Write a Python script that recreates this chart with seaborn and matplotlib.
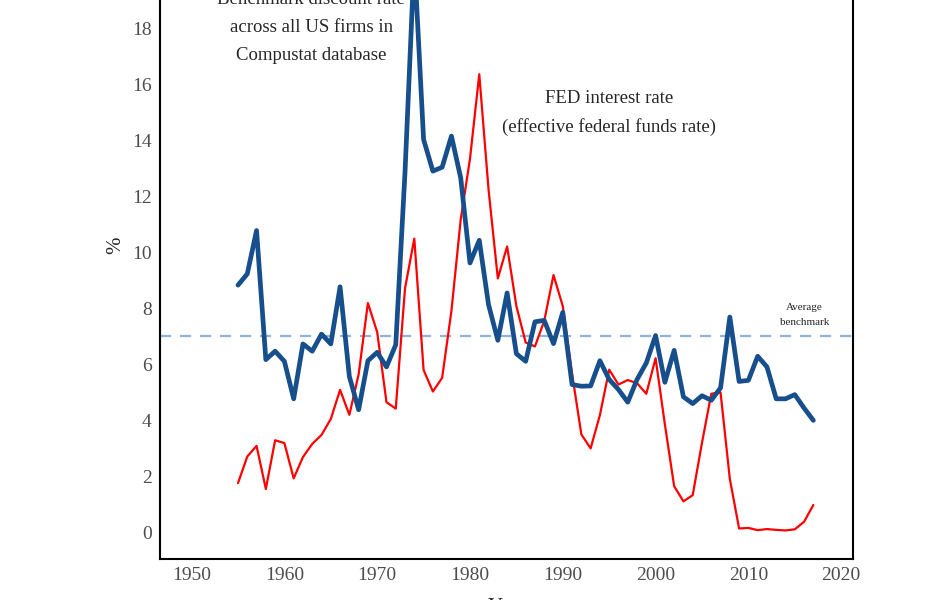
import numpy as np
import pandas as pd
import matplotlib
matplotlib.use('Agg')
import matplotlib.pyplot as plt
import seaborn as sns

# Data
years = list(range(1955, 2018))

benchmark = [8.85, 9.25, 10.8, 6.19, 6.49, 6.13, 4.79, 6.75, 6.49, 7.10,
             6.75, 8.79, 5.59, 4.40, 6.15, 6.45, 5.93, 6.72, 12.9, 20.5,
             14.05, 12.92, 13.06, 14.17, 12.68, 9.64, 10.45, 8.15, 6.88, 8.57,
             6.40, 6.13, 7.54, 7.59, 6.76, 7.88, 5.30, 5.24, 5.25, 6.15,
             5.48, 5.12, 4.67, 5.48, 6.07, 7.05, 5.38, 6.52, 4.86, 4.62,
             4.90, 4.74, 5.18, 7.71, 5.41, 5.45, 6.31, 5.93, 4.79, 4.79,
             4.94, 4.46, 4.02]

fed_rate = [1.78, 2.73, 3.11, 1.57, 3.31, 3.21, 1.95, 2.71, 3.18, 3.50,
            4.07, 5.11, 4.22, 5.66, 8.21, 7.17, 4.67, 4.44, 8.74, 10.51,
            5.82, 5.05, 5.54, 7.93, 11.19, 13.36, 16.38, 12.26, 9.09, 10.23,
            8.10, 6.80, 6.66, 7.57, 9.21, 8.10, 5.69, 3.52, 3.02, 4.21,
            5.83, 5.30, 5.46, 5.35, 4.97, 6.24, 3.88, 1.67, 1.13, 1.35,
            3.22, 4.97, 5.02, 1.93, 0.16, 0.18, 0.10, 0.14, 0.11, 0.09,
            0.13, 0.40, 1.00]

avg_benchmark = 7.05

df = pd.DataFrame({'Year': years, 'benchmark': benchmark, 'fed': fed_rate})

sns.set_theme(style='white')
plt.rcParams['font.family'] = ['Liberation Serif', 'DejaVu Serif']

fig = plt.figure(figsize=(9.47, 6.0), dpi=100)
# axes runs past the top of the canvas, like the cropped original
ax = fig.add_axes([0.169, 0.0683, 0.732, 1.047])

ax.axhline(avg_benchmark, color='#8db4dc', lw=1.6, ls=(0, (5, 4)), zorder=1)
sns.lineplot(data=df, x='Year', y='fed', ax=ax, color='#ff0000', lw=1.6, zorder=2)
sns.lineplot(data=df, x='Year', y='benchmark', ax=ax, color='#164f8c', lw=3.4, zorder=3)

ax.set_xlim(1946.6, 2021.3)
ax.set_ylim(-0.93, 21.5)
ax.set_xticks(range(1950, 2021, 10))
ax.set_yticks(range(0, 21, 2))
ax.tick_params(direction='in', length=3, width=1, colors='black',
               labelcolor='#4d4d4d', labelsize=14, pad=6)
for s in ax.spines.values():
    s.set_color('black')
    s.set_linewidth(1.5)

ax.set_xlabel('Year', fontsize=15, labelpad=10)
ax.set_ylabel('%', fontsize=15, labelpad=5)

ax.text(1962.9, 18.05, 'Benchmark discount rate\nacross all US firms in\nCompustat database',
        ha='center', va='center', fontsize=13.5, linespacing=1.85)
ax.text(1995.0, 15.0, 'FED interest rate\n(effective federal funds rate)',
        ha='center', va='center', fontsize=13.5, linespacing=1.8)
ax.text(2016.05, 7.78, 'Average\nbenchmark', ha='center', va='center',
        fontsize=8, linespacing=1.95)

fig.savefig('out.png', dpi=100)
